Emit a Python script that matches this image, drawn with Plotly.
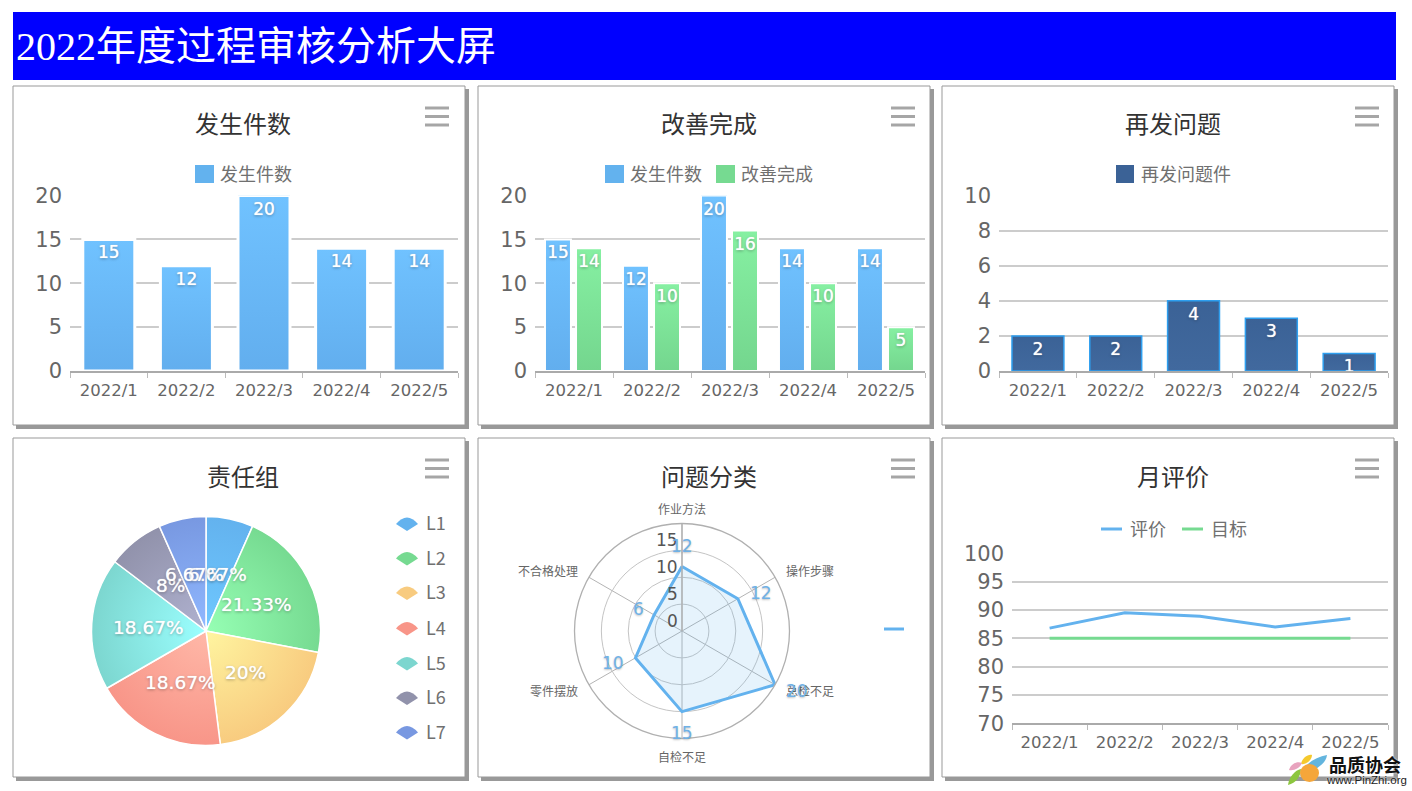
import math
import plotly.graph_objects as go

W, H = 1412, 791
months = ["2022/1", "2022/2", "2022/3", "2022/4", "2022/5"]
occurred = [15, 12, 20, 14, 14]
completed = [14, 10, 16, 10, 5]
recurring = [2, 2, 4, 3, 1]
groups = ["L1", "L2", "L3", "L4", "L5", "L6", "L7"]
group_counts = [5, 16, 15, 14, 14, 6, 5]
radar_categories = ["作业方法", "操作步骤", "总检不足", "自检不足", "零件摆放", "不合格处理"]
radar_values = [12, 12, 20, 15, 10, 6]
radar_ticks = [0, 5, 10, 15]
scores = [86.8, 89.5, 88.9, 87.0, 88.5]
targets = [85, 85, 85, 85, 85]

BLUE, GREEN, NAVY = "#63B2EE", "#76DA91", "#3B6296"
PIE = ["#63B2EE", "#76DA91", "#F8CB7F", "#F89588", "#7CD6CF", "#9192AB", "#7898E1"]
CJK = "Noto Sans CJK SC"
LATIN = "DejaVu Sans"
SHADOW = "0px 0px 1px rgba(255,255,255,0.9), 0px 1px 3px rgba(0,0,0,0.35)"


def X(x):
    return x / W


def Y(y):
    return 1 - y / H


shapes, annotations = [], []


def rect(x0, y0, x1, y1, fill, line=None, layer="below"):
    shapes.append(dict(type="rect", xref="paper", yref="paper", x0=X(x0), x1=X(x1), y0=Y(y0), y1=Y(y1),
                       fillcolor=fill, line=dict(color=line or fill, width=1 if line else 0), layer=layer))


def text(x, y, s, size, color, family=CJK, xanchor="center", weight=None, shadow=None):
    font = dict(size=size, color=color, family=family)
    if weight:
        font["weight"] = weight
    if shadow:
        font["shadow"] = shadow
    annotations.append(dict(xref="paper", yref="paper", x=X(x), y=Y(y), text=s, showarrow=False,
                            xanchor=xanchor, yanchor="middle", font=font, borderpad=0))


def path(points_str, fill):
    shapes.append(dict(type="path", xref="paper", yref="paper", path=points_str, fillcolor=fill,
                       line=dict(width=0), layer="above"))


def P(x, y):
    return f"{X(x):.6f},{Y(y):.6f}"


# header
rect(13, 12, 1396, 80, "#0000FF")
text(15, 46, "2022年度过程审核分析大屏", 40, "#FFFFFF", f'"Liberation Serif", "{CJK}"', "left")

# panels
for (left, right, menu_dx) in [(13, 465, 412), (478, 930, 413), (942, 1394, 413)]:
    for (top, bottom) in [(86, 425), (438, 777)]:
        rect(left + 3, top + 3, right + 4, bottom + 4, "#999999")
        rect(left, top, right, bottom, "#FFFFFF", "#999999")
        for dy in (22, 30.5, 39):
            rect(left + menu_dx, top + dy - 1.5, left + menu_dx + 24, top + dy + 1.5, "#A6A6A6", layer="above")

titles = [(243, 123, "发生件数"), (709, 123, "改善完成"), (1173, 123, "再发问题"),
          (243, 475, "责任组"), (709, 475, "问题分类"), (1173, 475, "月评价")]
for cx, cy, t in titles:
    text(cx, cy, t, 24, "#333333")

LEG = "#707070"
# legends
rect(195, 165, 214, 183, BLUE, layer="above")
text(219, 173, "发生件数", 18, LEG, xanchor="left")
rect(605, 165, 624, 183, BLUE, layer="above")
text(629, 173, "发生件数", 18, LEG, xanchor="left")
rect(716, 165, 735, 183, GREEN, layer="above")
text(740, 173, "改善完成", 18, LEG, xanchor="left")
rect(1116, 165, 1134, 183, NAVY, layer="above")
text(1140, 173, "再发问题件", 18, LEG, xanchor="left")
rect(1101, 527.5, 1122, 530.5, BLUE, layer="above")
text(1129, 528, "评价", 18, LEG, xanchor="left")
rect(1182, 527.5, 1203, 530.5, GREEN, layer="above")
text(1210, 528, "目标", 18, LEG, xanchor="left")
rect(884, 627.5, 904, 630.5, BLUE, layer="above")

legend_ys = [524, 558.5, 593, 628.5, 663.5, 698, 732.5]
for name, c, ly in zip(groups, PIE, legend_ys):
    path(f"M {P(396, ly)} Q {P(407, ly - 13)} {P(418, ly)} L {P(407, ly + 7)} Z", c)
    text(424.5, ly - 2, name, 18, LEG, xanchor="left")

fig = go.Figure()


def axis_common(n, left, right, top, bottom, yrange, dtick):
    fig.layout[f"xaxis{n}"] = dict(
        domain=[X(left), X(right)], anchor=f"y{n}", type="category", categoryorder="array", categoryarray=months,
        range=[-0.5, len(months) - 0.5],
        tickson="boundaries", ticks="outside", ticklen=5, tickcolor="#BBBBBB", automargin=False,
        showline=True, linecolor="#AAAAAA", linewidth=1.5, showgrid=False,
        tickfont=dict(size=16.5, color="#666666", family=LATIN), ticklabelstandoff=3, fixedrange=True)
    fig.layout[f"yaxis{n}"] = dict(
        domain=[Y(bottom), Y(top)], anchor=f"x{n}", range=yrange, dtick=dtick, tick0=yrange[0], automargin=False,
        showgrid=True, gridcolor="#CCCCCC", gridwidth=1.5, zeroline=False, showline=False,
        ticks="", tickfont=dict(size=21, color="#666666", family=LATIN), ticklabelstandoff=7, fixedrange=True)


axis_common("", 70, 458, 195.5, 371, [0, 20], 5)
axis_common("2", 535, 925, 195.5, 371, [0, 20], 5)
axis_common("3", 999, 1388, 195.5, 371, [0, 10], 2)
axis_common("4", 1012, 1388, 553.3, 723.3, [70, 100], 5)


def bar(x, y, color, axis, border, bw, width, offset):
    return go.Bar(x=x, y=y, text=[str(v) for v in y], textposition="inside", insidetextanchor="end",
                  textangle=0, constraintext="none", cliponaxis=True, width=width, offset=offset,
                  textfont=dict(size=17, color="#FFFFFF", family=LATIN, shadow=SHADOW),
                  marker=dict(color=color, line=dict(color=border, width=bw)),
                  xaxis=f"x{axis}", yaxis=f"y{axis}", showlegend=False, hoverinfo="skip")


fig.add_trace(bar(months, occurred, BLUE, "", "#FFFFFF", 3, 0.67, -0.335))
fig.add_trace(bar(months, occurred, BLUE, "2", "#FFFFFF", 2, 0.333, -0.372))
fig.add_trace(bar(months, completed, GREEN, "2", "#FFFFFF", 2, 0.333, 0.026))
fig.add_trace(bar(months, recurring, NAVY, "3", "#2E9FEF", 1.5, 0.667, -0.333))

# pie
fig.add_trace(go.Pie(labels=groups, values=group_counts, sort=False, direction="clockwise", rotation=0,
                     textinfo="none", hoverinfo="skip", showlegend=False, automargin=False,
                     marker=dict(colors=PIE, line=dict(color="#FFFFFF", width=1.5)),
                     domain=dict(x=[X(206 - 114.5), X(206 + 114.5)], y=[Y(631 + 114.5), Y(631 - 114.5)])))
total = sum(group_counts)
running = 0
for v in group_counts:
    mid = (running + v / 2) / total * 2 * math.pi
    running += v
    pct = f"{v / total * 100:.2f}".rstrip("0").rstrip(".") + "%"
    text(206 + 57.5 * math.sin(mid), 631 - 57.5 * math.cos(mid), pct, 18.5, "#FFFFFF", LATIN, shadow=SHADOW)

# radar
RCX, RCY, RR, RMAX = 682, 631, 107.5, 20
fig.add_trace(go.Scatterpolar(r=radar_values + radar_values[:1], theta=radar_categories + radar_categories[:1],
                              mode="lines", fill="toself", fillcolor="rgba(99,178,238,0.16)",
                              line=dict(color=BLUE, width=3), showlegend=False, hoverinfo="skip"))
fig.update_layout(polar=dict(
    domain=dict(x=[X(RCX - RR), X(RCX + RR)], y=[Y(RCY + RR), Y(RCY - RR)]),
    bgcolor="rgba(0,0,0,0)",
    angularaxis=dict(type="category", categoryorder="array", categoryarray=radar_categories,
                     direction="clockwise", rotation=90, showticklabels=False,
                     ticks="", gridcolor="#B4B4B4", gridwidth=1.3, linecolor="#B0B0B0", linewidth=1.3),
    radialaxis=dict(range=[0, RMAX], tickvals=[0, 5, 10, 15, 20], showticklabels=False, ticks="", angle=90,
                    gridcolor="#C4C4C4", gridwidth=1.3, showline=True, linecolor="#B0B0B0", linewidth=1.3),
))
label_anchors = [(682, 509), (810, 571), (810, 691), (682, 757), (554, 691), (548, 571)]
for (lx, ly), name in zip(label_anchors, radar_categories):
    text(lx, ly - 1, name, 12, "#666666")
for t in radar_ticks:
    text(679, RCY - t / RMAX * RR - 10, str(t), 17, "#555555", LATIN, "right")
label_offsets = [(0, -21), (23, -6), (22, 6), (0, 21), (-22, 5), (-16, -6)]
for i, (v, (ox, oy)) in enumerate(zip(radar_values, label_offsets)):
    a = i / len(radar_values) * 2 * math.pi
    rp = v / RMAX * RR
    text(RCX + rp * math.sin(a) + ox, RCY - rp * math.cos(a) + oy, str(v), 17, "#6FB1E6", LATIN,
         shadow="0px 1px 2px rgba(0,0,0,0.25)")

# line chart
fig.add_trace(go.Scatter(x=months, y=scores, mode="lines", line=dict(color=BLUE, width=3),
                         xaxis="x4", yaxis="y4", showlegend=False, hoverinfo="skip"))
fig.add_trace(go.Scatter(x=months, y=targets, mode="lines", line=dict(color=GREEN, width=3),
                         xaxis="x4", yaxis="y4", showlegend=False, hoverinfo="skip"))

# watermark logo
path(f"M {P(1300, 776)} C {P(1303, 765)} {P(1315, 757)} {P(1327, 755)} C {P(1326, 764)} {P(1316, 770)} {P(1300, 776)} Z", "#63B5DE")
path(f"M {P(1301, 764)} C {P(1302, 758)} {P(1308, 754)} {P(1312, 755)} C {P(1312, 760)} {P(1306, 765)} {P(1301, 764)} Z", "#F5C92D")
path(f"M {P(1289, 770)} C {P(1291, 763)} {P(1298, 761)} {P(1302, 763)} C {P(1300, 768)} {P(1294, 771)} {P(1289, 770)} Z", "#E8A3BE")
path(f"M {P(1288, 785)} C {P(1289, 777)} {P(1295, 770)} {P(1301, 769)} C {P(1301, 776)} {P(1296, 783)} {P(1288, 785)} Z", "#8CC63F")
shapes.append(dict(type="circle", xref="paper", yref="paper", x0=X(1300), x1=X(1319), y0=Y(782), y1=Y(764),
                   fillcolor="#F5A63A", line=dict(width=0), layer="above"))
text(1365, 763.5, "品质协会", 18, "#111111", CJK, weight=700, shadow="0px 0px 2px #FFFFFF")
text(1366, 779.5, "www.PinZhi.org", 11.5, "#222222", "Liberation Sans", shadow="0px 0px 2px #FFFFFF")

fig.update_layout(template="none", width=W, height=H, margin=dict(l=0, r=0, t=0, b=0, pad=0), autosize=False,
                  paper_bgcolor="#FFFFFF", plot_bgcolor="rgba(0,0,0,0)", barmode="overlay", showlegend=False,
                  shapes=shapes, annotations=annotations)

POST = r"""
document.body.style.margin='0';
document.body.style.overflow='hidden';
var gd=document.querySelector('.plotly-graph-div');
var svg=gd.querySelector('svg.main-svg');
var NS='http://www.w3.org/2000/svg';
var defs=svg.querySelector('defs');
function stop(g,o,c){var s=document.createElementNS(NS,'stop');s.setAttribute('offset',o);s.setAttribute('stop-color',c);g.appendChild(s);}
function lin(id,a,b){var g=document.createElementNS(NS,'linearGradient');g.id=id;g.setAttribute('x1','0');g.setAttribute('y1','0');g.setAttribute('x2','0');g.setAttribute('y2','1');stop(g,'0',a);stop(g,'1',b);defs.appendChild(g);}
function rad(id,a,b,r){var g=document.createElementNS(NS,'radialGradient');g.id=id;g.setAttribute('gradientUnits','userSpaceOnUse');g.setAttribute('cx','206');g.setAttribute('cy','631');g.setAttribute('r',r);stop(g,'0',a);stop(g,'1',b);defs.appendChild(g);}
lin('gb','#70C2FF','#62AEEE');lin('gg','#86F0A2','#74D68E');lin('gn','#3B6296','#41699E');
var bars=gd.querySelectorAll('.barlayer .trace.bars');
var map=['gb','gb','gg','gn'];
bars.forEach(function(t,i){t.querySelectorAll('.point path').forEach(function(p){p.style.fill='url(#'+map[i]+')';});});
var c=[['#6FC8FF','#63B2EE'],['#96FFB4','#76DA91'],['#FFF5A0','#F8CB7F'],['#FFB8A8','#F89588'],['#9BFFFF','#7CD6CF'],['#B0B2D0','#9192AB'],['#90B8FF','#7898E1']];
gd.querySelectorAll('.pielayer .slice path.surface').forEach(function(p,i){rad('gp'+i,c[i][0],c[i][1],'115');p.style.fill='url(#gp'+i+')';});
"""
fig.write_html("out.html", post_script=POST, config=dict(displayModeBar=False))
